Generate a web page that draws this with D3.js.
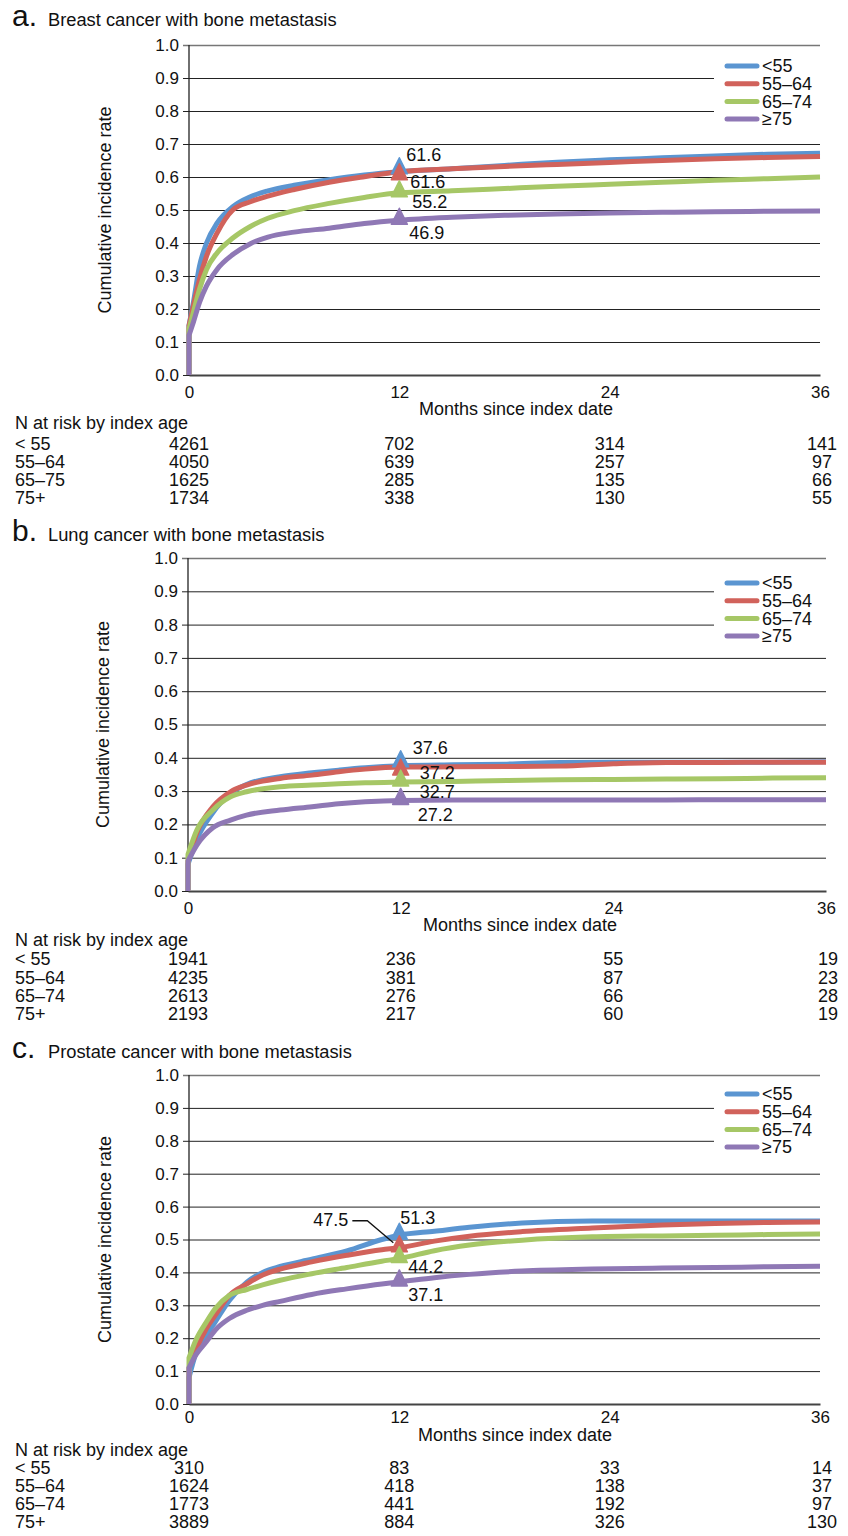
<!DOCTYPE html>
<html><head><meta charset="utf-8">
<script src="https://cdn.jsdelivr.net/npm/d3@7"></script>
<style>
body{margin:0;background:#fff}
text{font-family:"Liberation Sans",Arial,Helvetica,sans-serif;fill:#111}
</style>
</head><body>
<svg id="chart" width="848" height="1536"></svg>
<script>
// ---------- DATA ----------
const seriesNames = ["<55", "55–64", "65–74", "≥75"];
const seriesColors = ["#5b95d1", "#d1625b", "#a6c766", "#8f78b5"];
const yTicks = [0, 0.1, 0.2, 0.3, 0.4, 0.5, 0.6, 0.7, 0.8, 0.9, 1.0];
const xTicks = [0, 12, 24, 36];

// Panel a: Breast
const monthsA = [0, 0.25, 0.6, 1, 1.6, 2.5, 3.5, 4.5, 6, 8, 10, 12, 15, 18, 21, 24, 27, 30, 33, 36];
const breastLt55 = [0.15, 0.22, 0.33, 0.40, 0.46, 0.51, 0.54, 0.558, 0.575, 0.592, 0.606, 0.616, 0.625, 0.635, 0.645, 0.652, 0.658, 0.664, 0.669, 0.672];
const breast5564 = [0.15, 0.21, 0.29, 0.36, 0.43, 0.50, 0.525, 0.542, 0.562, 0.584, 0.601, 0.616, 0.625, 0.632, 0.638, 0.644, 0.65, 0.655, 0.659, 0.662];
const breast6574 = [0.14, 0.19, 0.26, 0.32, 0.37, 0.415, 0.45, 0.475, 0.498, 0.52, 0.538, 0.552, 0.558, 0.565, 0.572, 0.578, 0.584, 0.59, 0.595, 0.60];
const breast75 = [0.12, 0.16, 0.22, 0.27, 0.32, 0.365, 0.398, 0.418, 0.433, 0.445, 0.459, 0.469, 0.478, 0.484, 0.488, 0.491, 0.493, 0.495, 0.496, 0.497];
const breastMarks = ["61.6", "61.6", "55.2", "46.9"];
const riskLabelsA = ["< 55", "55–64", "65–75", "75+"];
const riskA = [[4261, 702, 314, 141], [4050, 639, 257, 97], [1625, 285, 135, 66], [1734, 338, 130, 55]];

// Panel b: Lung
const monthsB = [0, 0.5, 1.4, 2.4, 3.3, 5.2, 7, 8.5, 10, 12, 15, 18, 21, 24, 27, 30, 33, 36];
const lungLt55 = [0.08, 0.155, 0.235, 0.293, 0.32, 0.343, 0.355, 0.363, 0.37, 0.376, 0.379, 0.381, 0.386, 0.387, 0.387, 0.387, 0.387, 0.388];
const lung5564 = [0.09, 0.175, 0.253, 0.298, 0.318, 0.338, 0.348, 0.358, 0.366, 0.372, 0.373, 0.374, 0.375, 0.382, 0.386, 0.386, 0.387, 0.387];
const lung6574 = [0.11, 0.183, 0.243, 0.283, 0.298, 0.313, 0.318, 0.322, 0.325, 0.327, 0.329, 0.332, 0.334, 0.335, 0.336, 0.337, 0.339, 0.340];
const lung75 = [0.09, 0.138, 0.19, 0.213, 0.228, 0.243, 0.253, 0.262, 0.268, 0.272, 0.273, 0.273, 0.273, 0.273, 0.273, 0.274, 0.274, 0.274];
const lungMarks = ["37.6", "37.2", "32.7", "27.2"];
const riskLabelsB = ["< 55", "55–64", "65–74", "75+"];
const riskB = [[1941, 236, 55, 19], [4235, 381, 87, 23], [2613, 276, 66, 28], [2193, 217, 60, 19]];

// Panel c: Prostate
const monthsC = [0, 0.4, 1, 1.5, 2.3, 3.3, 4.2, 5.2, 7, 9, 11, 12, 14, 16, 19, 23, 27, 30, 33, 36];
const prostLt55 = [0.08, 0.155, 0.21, 0.25, 0.315, 0.37, 0.40, 0.418, 0.44, 0.465, 0.5, 0.513, 0.525, 0.537, 0.55, 0.556, 0.556, 0.556, 0.556, 0.556];
const prost5564 = [0.11, 0.165, 0.23, 0.27, 0.33, 0.365, 0.392, 0.41, 0.432, 0.452, 0.469, 0.475, 0.495, 0.51, 0.524, 0.535, 0.544, 0.549, 0.552, 0.553];
const prost6574 = [0.14, 0.195, 0.25, 0.29, 0.33, 0.348, 0.362, 0.376, 0.396, 0.415, 0.434, 0.442, 0.466, 0.483, 0.498, 0.508, 0.511, 0.513, 0.515, 0.517];
const prost75 = [0.11, 0.15, 0.19, 0.225, 0.26, 0.285, 0.30, 0.312, 0.333, 0.35, 0.365, 0.371, 0.384, 0.394, 0.404, 0.41, 0.413, 0.415, 0.417, 0.419];
const prostMarks = ["51.3", "47.5", "44.2", "37.1"];
const riskLabelsC = ["< 55", "55–64", "65–74", "75+"];
const riskC = [[310, 83, 33, 14], [1624, 418, 138, 37], [1773, 441, 192, 97], [3889, 884, 326, 130]];

const markMonth = 12;

// ---------- LAYOUT ----------
const panels = [
  {letter: "a.", title: "Breast cancer with bone metastasis", months: monthsA,
   series: [breastLt55, breast5564, breast6574, breast75], marks: breastMarks,
   riskLabels: riskLabelsA, risk: riskA,
   L: {titleY: 26, top: 45, bottom: 375, left: 189, right: 820, legY: 66, xTickY: 392, xLabelY: 409, xLabelX: 516, yLabelX: 105, headY: 423, rowY: 444, rowStep: 18},
   off: [[7, -17], [11, 10], [13, 9], [10, 12]], nudge: [-2, 4, 0, 0], leader: null},
  {letter: "b.", title: "Lung cancer with bone metastasis", months: monthsB,
   series: [lungLt55, lung5564, lung6574, lung75], marks: lungMarks,
   riskLabels: riskLabelsB, risk: riskB,
   L: {titleY: 541, top: 558, bottom: 891, left: 188, right: 826, legY: 583, xTickY: 908, xLabelY: 925, xLabelX: 520, yLabelX: 103, headY: 940, rowY: 959, rowStep: 18.3},
   off: [[12, -18], [19, 6], [19, 10], [17, 14]], nudge: [-3, 4, 0, 0], leader: null},
  {letter: "c.", title: "Prostate cancer with bone metastasis", months: monthsC,
   series: [prostLt55, prost5564, prost6574, prost75], marks: prostMarks,
   riskLabels: riskLabelsC, risk: riskC,
   L: {titleY: 1058, top: 1075, bottom: 1404, left: 189, right: 820, legY: 1094, xTickY: 1417, xLabelY: 1435, xLabelX: 515, yLabelX: 105, headY: 1450, rowY: 1468, rowStep: 18},
   off: [[1, -18], [-51, -28], [9, 8], [9, 13]], nudge: [0, 0, 0, 0], leader: 1}
];

const svg = d3.select("#chart");
svg.append("rect").attr("width", 848).attr("height", 1536).attr("fill", "#fff");

panels.forEach(p => {
  const L = p.L;
  const g = svg.append("g");
  const x = d3.scaleLinear().domain([0, 36]).range([L.left, L.right]);
  const y = d3.scaleLinear().domain([0, 1]).range([L.bottom, L.top]);

  // titles
  g.append("text").attr("x", 12).attr("y", L.titleY).attr("font-size", 30).text(p.letter);
  g.append("text").attr("x", 48).attr("y", L.titleY).attr("font-size", 18.3).text(p.title);

  // y axis with gridlines
  const yAxis = d3.axisLeft(y).tickValues(yTicks).tickFormat(d3.format(".1f"))
    .tickSize(-(L.right - L.left)).tickPadding(10);
  const ya = g.append("g").attr("transform", `translate(${L.left},0)`).call(yAxis);
  ya.select(".domain").remove();
  ya.selectAll(".tick line").attr("x1", -6).attr("stroke", "#222").attr("stroke-width", 1);
  ya.selectAll(".tick").filter(d => d === 1).select("line").attr("stroke", "#777").attr("stroke-width", 1.6);
  ya.selectAll(".tick text").attr("font-size", 17).attr("fill", "#111")
    .attr("font-family", '"Liberation Sans",Arial,sans-serif');
  g.append("line").attr("x1", L.left).attr("x2", L.left).attr("y1", L.top).attr("y2", L.bottom)
    .attr("stroke", "#222").attr("stroke-width", 1.3);

  // x axis
  const xAxis = d3.axisBottom(x).tickValues(xTicks).tickSize(0).tickPadding(0);
  const xa = g.append("g").attr("transform", `translate(0,${L.bottom})`).call(xAxis);
  xa.select(".domain").attr("stroke", "#444").attr("stroke-width", 2);
  xa.selectAll(".tick text").attr("font-size", 17).attr("fill", "#111")
    .attr("font-family", '"Liberation Sans",Arial,sans-serif')
    .attr("y", L.xTickY - L.bottom).attr("dy", "0.35em");

  g.append("text").attr("x", L.xLabelX).attr("y", L.xLabelY).attr("dy", "0.35em")
    .attr("text-anchor", "middle").attr("font-size", 18).text("Months since index date");
  g.append("text").attr("transform", `translate(${L.yLabelX},${(L.top + L.bottom) / 2}) rotate(-90)`)
    .attr("dy", "0.35em").attr("text-anchor", "middle").attr("font-size", 18).text("Cumulative incidence rate");

  // legend
  const lg = g.append("g");
  lg.append("rect").attr("x", 714).attr("y", L.legY - 12).attr("width", L.right - 712).attr("height", 76).attr("fill", "#fff");
  seriesNames.forEach((name, i) => {
    const yy = L.legY + i * 17.7;
    lg.append("line").attr("x1", 727).attr("x2", 757).attr("y1", yy).attr("y2", yy)
      .attr("stroke", seriesColors[i]).attr("stroke-width", 5).attr("stroke-linecap", "round");
    lg.append("text").attr("x", 762).attr("y", yy).attr("dy", "0.35em").attr("font-size", 18).text(name);
  });

  // curves
  const line = d3.line().x(d => x(d[0])).y(d => y(d[1])).curve(d3.curveMonotoneX);
  p.series.forEach((vals, i) => {
    const pts = p.months.map((m, k) => [m, vals[k]]);
    const dPath = "M" + x(0) + "," + y(0) + "L" + line(pts).slice(1);
    g.append("path").attr("d", dPath).attr("fill", "none").attr("stroke", seriesColors[i])
      .attr("stroke-width", 5).attr("stroke-linejoin", "round");
  });

  // markers and labels
  p.marks.forEach((lab, i) => {
    const mx = x(markMonth), my = y(+lab / 100) + p.nudge[i];
    g.append("path").attr("d", `M${mx},${my - 12}L${mx + 8},${my + 4}L${mx - 8},${my + 4}Z`)
      .attr("fill", seriesColors[i]).attr("stroke", seriesColors[i]).attr("stroke-width", 1.5)
      .attr("stroke-linejoin", "round");
  });
  p.marks.forEach((lab, i) => {
    const mx = x(markMonth), my = y(+lab / 100);
    const o = p.off[i];
    const isLeader = p.leader === i;
    g.append("text").attr("x", mx + o[0]).attr("y", my + o[1]).attr("dy", "0.35em")
      .attr("text-anchor", isLeader ? "end" : "start").attr("font-size", 18).text(lab);
    if (isLeader) {
      g.append("polyline")
        .attr("points", `${mx - 47},${my + o[1] + 1} ${mx - 32},${my + o[1] + 1} ${mx - 6},${my - 5}`)
        .attr("fill", "none").attr("stroke", "#111").attr("stroke-width", 1.3);
    }
  });

  // risk table
  g.append("text").attr("x", 15).attr("y", L.headY).attr("dy", "0.35em").attr("font-size", 18).text("N at risk by index age");
  p.riskLabels.forEach((lab, r) => {
    const yy = L.rowY + r * L.rowStep;
    g.append("text").attr("x", 15).attr("y", yy).attr("dy", "0.35em").attr("font-size", 18).text(lab);
    p.risk[r].forEach((v, c) => {
      g.append("text").attr("x", x(xTicks[c]) + (c === 3 ? 2 : 0)).attr("y", yy).attr("dy", "0.35em")
        .attr("text-anchor", "middle").attr("font-size", 18).text(v);
    });
  });
});
</script>
</body></html>
